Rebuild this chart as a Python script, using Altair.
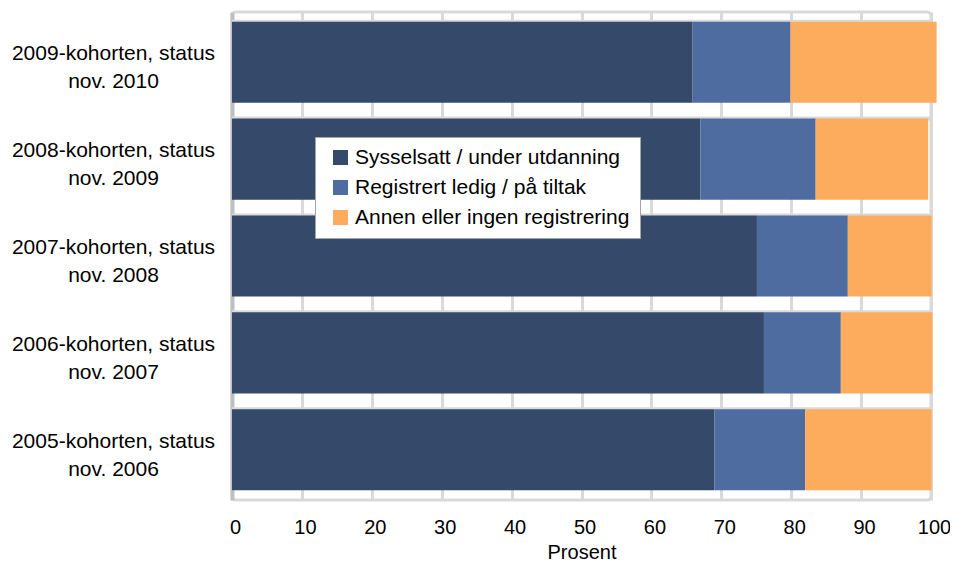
import altair as alt
import pandas as pd

categories = [
    "2009-kohorten, status|nov. 2010",
    "2008-kohorten, status|nov. 2009",
    "2007-kohorten, status|nov. 2008",
    "2006-kohorten, status|nov. 2007",
    "2005-kohorten, status|nov. 2006",
]
series = ["Sysselsatt / under utdanning", "Registrert ledig / på tiltak", "Annen eller ingen registrering"]
sysselsatt = [65.9, 67.0, 75.1, 76.1, 69.0]
ledig = [14.0, 16.5, 13.0, 11.0, 13.0]
annen = [20.9, 16.1, 12.0, 13.1, 18.1]
colors = ["#35496B", "#4F6CA1", "#FDAB5C"]

rows = []
for i, c in enumerate(categories):
    for j, (s, vals) in enumerate(zip(series, [sysselsatt, ledig, annen])):
        rows.append({"kategori": c, "serie": s, "verdi": vals[i], "rekkefolge": j})
df = pd.DataFrame(rows)
sep = pd.DataFrame({"kategori": categories})

FONT = "Liberation Sans"
W, H = 699, 488

bars = alt.Chart(df).mark_bar().encode(
    x=alt.X("verdi:Q", stack="zero",
            scale=alt.Scale(domain=[0, 100], nice=False, zero=True),
            axis=alt.Axis(values=list(range(0, 101, 10)), title="Prosent",
                          grid=True, gridColor="#D9D9D9", gridWidth=3,
                          domain=False, ticks=False, labelPadding=17, labelOffset=3,
                          labelFlush=False,
                          labelFontSize=20, titleFontSize=20, titleFontWeight="normal",
                          titlePadding=5, labelFont=FONT, titleFont=FONT,
                          labelColor="#000000", titleColor="#000000")),
    y=alt.Y("kategori:N", sort=categories,
            scale=alt.Scale(paddingInner=0.163, paddingOuter=0.1),
            axis=alt.Axis(title=None, ticks=False, domain=True, domainColor="#BFBFBF",
                          domainWidth=4, grid=False,
                          labelExpr="split(datum.label, '|')", labelAlign="center",
                          labelPadding=119, labelFontSize=21, labelLineHeight=28,
                          labelOffset=-8,
                          labelFont=FONT, labelColor="#000000", labelLimit=300,
                          labelBaseline="middle")),
    color=alt.Color("serie:N", sort=series,
                    scale=alt.Scale(domain=series, range=colors),
                    legend=alt.Legend(title=None, orient="none", legendX=83, legendY=125,
                                      fillColor="#FFFFFF", strokeColor="#A6A6A6",
                                      padding=10, symbolOffset=5, symbolType="square",
                                      symbolSize=225,
                                      symbolStrokeWidth=0, labelFontSize=21, labelFont=FONT,
                                      labelColor="#000000", rowPadding=8, labelOffset=4,
                                      labelLimit=400)),
    order=alt.Order("rekkefolge:Q"),
)

seps = alt.Chart(sep).mark_rule(color="#D9D9D9", strokeWidth=4).encode(
    y=alt.Y("kategori:N", sort=categories, bandPosition=0),
    x=alt.value(0),
    x2=alt.value(W),
)

chart = alt.layer(seps, bars).properties(
    width=W, height=H,
    autosize=alt.AutoSizeParams(type="none"),
    padding={"left": 224, "top": 4, "right": 19, "bottom": 63},
).configure_view(stroke="#D9D9D9", strokeWidth=3, cornerRadius=4)

chart.save("out.html", embed_options={"renderer": "svg", "actions": False})
